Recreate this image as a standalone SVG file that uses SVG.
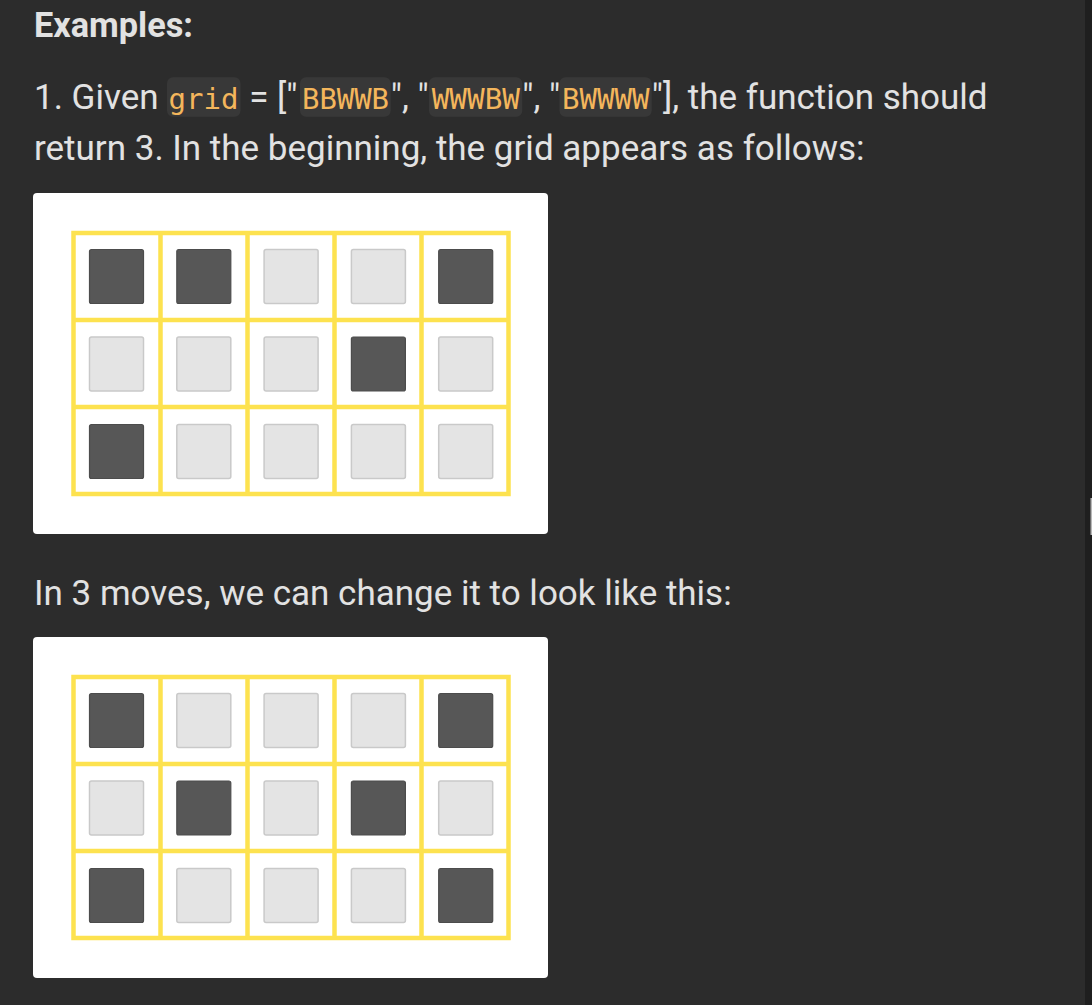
<svg xmlns="http://www.w3.org/2000/svg" width="1092" height="1005" viewBox="0 0 1092 1005">
<style>
.t{font-family:Roboto,"Liberation Sans",sans-serif;font-size:35px;fill:#e2e2e2}
.h{font-weight:700;font-size:34.3px}
.c{font-family:"DejaVu Sans Mono","Liberation Mono",monospace;font-size:28px;fill:#f4b65c}
.cb{fill:#383838}
.panel{fill:#ffffff}
.grid{fill:none;stroke:#fde24f;stroke-width:4.5}
.B{fill:#575757;stroke:#4c4c4c;stroke-width:1.2}
.W{fill:#e4e4e4;stroke:#c9c9c9;stroke-width:1.5}
</style>
<defs>
<g id="lines">
<rect class="grid" x="73.5" y="233" width="435" height="261"/>
<path class="grid" d="M160.5 233V494M247.5 233V494M334.5 233V494M421.5 233V494M73.5 320H508.5M73.5 407H508.5"/>
</g>
</defs>
<rect x="0" y="0" width="1092" height="1005" fill="#2c2c2c"/>
<rect x="1085" y="0" width="7" height="1005" fill="#1f1f1f"/>
<rect x="1090.5" y="498" width="2" height="37" fill="#b8b8b8"/>

<g id="heading"><text class="t h" x="34" y="36.7">Examples:</text></g>

<g id="line1">
<rect class="cb" x="167" y="77.3" width="73.5" height="39.4" rx="6"/>
<rect class="cb" x="300" y="77.3" width="90.7" height="39.4" rx="6"/>
<rect class="cb" x="429" y="77.3" width="93.3" height="39.4" rx="6"/>
<rect class="cb" x="559.5" y="77.3" width="92.2" height="39.4" rx="6"/>
<text class="t" x="34" y="108.5">1. Given</text>
<text class="c" x="168.5" y="108.5" textLength="70" lengthAdjust="spacingAndGlyphs">grid</text>
<text class="t" x="240.5" y="108.5" xml:space="preserve"> = ["</text>
<text class="c" x="302" y="108.5" textLength="87" lengthAdjust="spacingAndGlyphs">BBWWB</text>
<text class="t" x="390.7" y="108.5" xml:space="preserve">", "</text>
<text class="c" x="431.7" y="108.5" textLength="88.3" lengthAdjust="spacingAndGlyphs">WWWBW</text>
<text class="t" x="522.3" y="108.5" xml:space="preserve">", "</text>
<text class="c" x="562" y="108.5" textLength="87.5" lengthAdjust="spacingAndGlyphs">BWWWW</text>
<text class="t" x="651.7" y="108.5" xml:space="preserve">"], the function should</text>
</g>
<g id="line2"><text class="t" x="34" y="159.5">return 3. In the beginning, the grid appears as follows:</text></g>

<g id="panel-initial">
<rect class="panel" x="33" y="193" width="515" height="341" rx="4"/>
<use href="#lines"/>
<g id="r1c1"><rect class="B" x="89.5" y="249.5" width="54" height="54" rx="2"/></g>
<g id="r1c2"><rect class="B" x="176.8" y="249.5" width="54" height="54" rx="2"/></g>
<g id="r1c3"><rect class="W" x="264.1" y="249.5" width="54" height="54" rx="2"/></g>
<g id="r1c4"><rect class="W" x="351.4" y="249.5" width="54" height="54" rx="2"/></g>
<g id="r1c5"><rect class="B" x="438.7" y="249.5" width="54" height="54" rx="2"/></g>
<g id="r2c1"><rect class="W" x="89.5" y="337" width="54" height="54" rx="2"/></g>
<g id="r2c2"><rect class="W" x="176.8" y="337" width="54" height="54" rx="2"/></g>
<g id="r2c3"><rect class="W" x="264.1" y="337" width="54" height="54" rx="2"/></g>
<g id="r2c4"><rect class="B" x="351.4" y="337" width="54" height="54" rx="2"/></g>
<g id="r2c5"><rect class="W" x="438.7" y="337" width="54" height="54" rx="2"/></g>
<g id="r3c1"><rect class="B" x="89.5" y="424.5" width="54" height="54" rx="2"/></g>
<g id="r3c2"><rect class="W" x="176.8" y="424.5" width="54" height="54" rx="2"/></g>
<g id="r3c3"><rect class="W" x="264.1" y="424.5" width="54" height="54" rx="2"/></g>
<g id="r3c4"><rect class="W" x="351.4" y="424.5" width="54" height="54" rx="2"/></g>
<g id="r3c5"><rect class="W" x="438.7" y="424.5" width="54" height="54" rx="2"/></g>
</g>

<g id="line3"><text class="t" x="34" y="605">In 3 moves, we can change it to look like this:</text></g>

<g id="panel-final" transform="translate(0,444)">
<rect class="panel" x="33" y="193" width="515" height="341" rx="4"/>
<use href="#lines"/>
<g id="f-r1c1"><rect class="B" x="89.5" y="249.5" width="54" height="54" rx="2"/></g>
<g id="f-r1c2"><rect class="W" x="176.8" y="249.5" width="54" height="54" rx="2"/></g>
<g id="f-r1c3"><rect class="W" x="264.1" y="249.5" width="54" height="54" rx="2"/></g>
<g id="f-r1c4"><rect class="W" x="351.4" y="249.5" width="54" height="54" rx="2"/></g>
<g id="f-r1c5"><rect class="B" x="438.7" y="249.5" width="54" height="54" rx="2"/></g>
<g id="f-r2c1"><rect class="W" x="89.5" y="337" width="54" height="54" rx="2"/></g>
<g id="f-r2c2"><rect class="B" x="176.8" y="337" width="54" height="54" rx="2"/></g>
<g id="f-r2c3"><rect class="W" x="264.1" y="337" width="54" height="54" rx="2"/></g>
<g id="f-r2c4"><rect class="B" x="351.4" y="337" width="54" height="54" rx="2"/></g>
<g id="f-r2c5"><rect class="W" x="438.7" y="337" width="54" height="54" rx="2"/></g>
<g id="f-r3c1"><rect class="B" x="89.5" y="424.5" width="54" height="54" rx="2"/></g>
<g id="f-r3c2"><rect class="W" x="176.8" y="424.5" width="54" height="54" rx="2"/></g>
<g id="f-r3c3"><rect class="W" x="264.1" y="424.5" width="54" height="54" rx="2"/></g>
<g id="f-r3c4"><rect class="W" x="351.4" y="424.5" width="54" height="54" rx="2"/></g>
<g id="f-r3c5"><rect class="B" x="438.7" y="424.5" width="54" height="54" rx="2"/></g>
</g>
<g id="connectors"/>
</svg>
